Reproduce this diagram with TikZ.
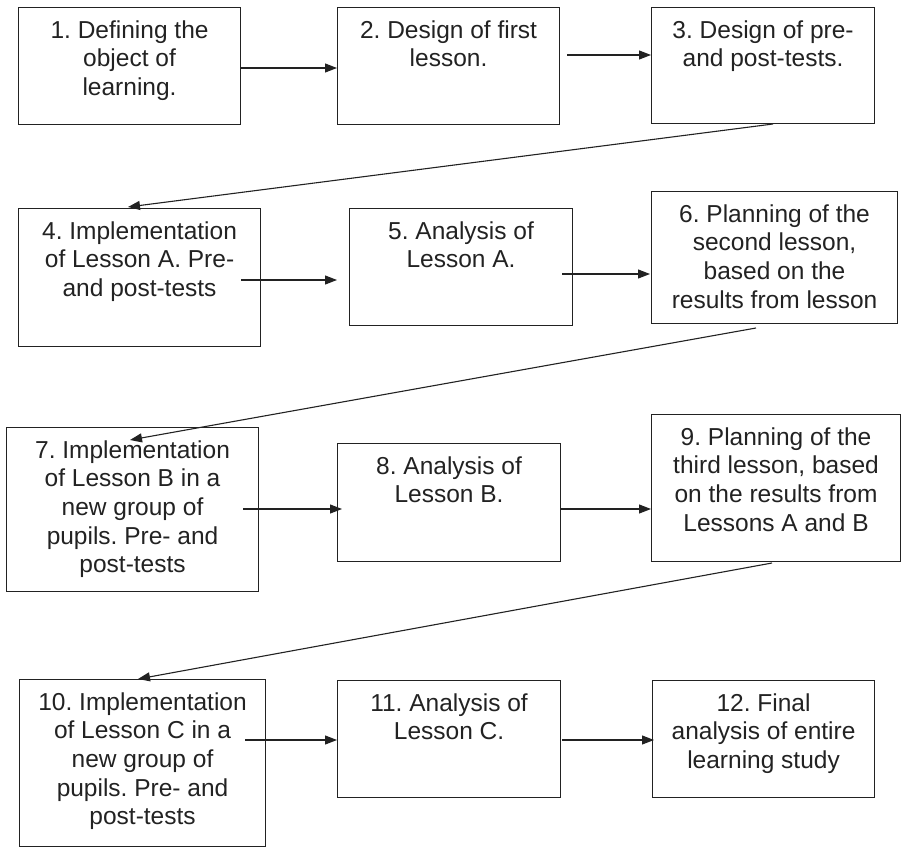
\documentclass[tikz,border=0pt]{standalone}
\usepackage{fontspec}
\setmainfont{Liberation Sans}
\usetikzlibrary{arrows.meta}
\definecolor{ink}{HTML}{222222}
\tikzset{
  flowbox/.style={draw=ink, line width=1.1pt, rectangle, inner sep=0pt, anchor=north west},
  txt/.style={inner sep=0pt, anchor=north, align=center, text=ink, font=\fontsize{24.5}{28.7}\selectfont\frenchspacing},
  arr/.style={draw=ink, line width=1.1pt, -{Triangle[length=12pt,width=9pt]}},
}
\begin{document}
\frenchspacing
\begin{tikzpicture}[x=1pt,y=-1pt]
\useasboundingbox (0,0) rectangle (902,848);
% boxes
\node[flowbox, minimum width=222pt, minimum height=117pt] (b1) at (18,7) {};
\node[flowbox, minimum width=222pt, minimum height=117pt] (b2) at (337,7) {};
\node[flowbox, minimum width=223pt, minimum height=116pt] (b3) at (651,7) {};
\node[flowbox, minimum width=242pt, minimum height=138pt] (b4) at (18,208) {};
\node[flowbox, minimum width=223pt, minimum height=117pt] (b5) at (349,208) {};
\node[flowbox, minimum width=246pt, minimum height=132pt] (b6) at (651,191) {};
\node[flowbox, minimum width=252pt, minimum height=164pt] (b7) at (6,427) {};
\node[flowbox, minimum width=223pt, minimum height=118pt] (b8) at (337,443) {};
\node[flowbox, minimum width=249pt, minimum height=147pt] (b9) at (651,414) {};
\node[flowbox, minimum width=246pt, minimum height=167pt] (b10) at (19,679) {};
\node[flowbox, minimum width=223pt, minimum height=117pt] (b11) at (337,680) {};
\node[flowbox, minimum width=222pt, minimum height=117pt] (b12) at (652,680) {};
% texts
\node[txt] (t1) at ([yshift=-10.9pt]b1.north) {\strut 1. Defining the\\object of\\learning.};
\node[txt] (t2) at ([yshift=-10.9pt]b2.north) {\strut 2. Design of first\\lesson.};
\node[txt] (t3) at ([yshift=-10.9pt]b3.north) {\strut 3. Design of pre-\\and post-tests.};
\node[txt] (t4) at ([yshift=-10.9pt]b4.north) {\strut 4. Implementation\\of Lesson A. Pre-\\and post-tests};
\node[txt] (t5) at ([yshift=-10.9pt]b5.north) {\strut 5. Analysis of\\Lesson A.};
\node[txt] (t6) at ([yshift=-10.9pt]b6.north) {\strut 6. Planning of the\\second lesson,\\based on the\\results from lesson};
\node[txt] (t7) at ([yshift=-10.9pt]b7.north) {\strut 7. Implementation\\of Lesson B in a\\new group of\\pupils. Pre- and\\post-tests};
\node[txt] (t8) at ([yshift=-10.9pt]b8.north) {\strut 8. Analysis of\\Lesson B.};
\node[txt] (t9) at ([yshift=-10.9pt]b9.north) {\strut 9. Planning of the\\third lesson, based\\on the results from\\Lessons A and B};
\node[txt] (t10) at ([yshift=-10.9pt]b10.north) {\strut 10. Implementation\\of Lesson C in a\\new group of\\pupils. Pre- and\\post-tests};
\node[txt] (t11) at ([yshift=-10.9pt]b11.north) {\strut 11. Analysis of\\Lesson C.};
\node[txt] (t12) at ([yshift=-10.9pt]b12.north) {\strut 12. Final\\analysis of entire\\learning study};
% connector end points
\coordinate (s12) at (240,68);   \coordinate (e12) at (337,68);
\coordinate (s23) at (567,55);   \coordinate (e23) at (651,55);
\coordinate (s34) at (773,124);  \coordinate (e34) at (128,207);
\coordinate (s45) at (241,280);  \coordinate (e45) at (337,280);
\coordinate (s56) at (562,274);  \coordinate (e56) at (650,274);
\coordinate (s67) at (756,328);  \coordinate (e67) at (130,440);
\coordinate (s78) at (243,509);  \coordinate (e78) at (342,509);
\coordinate (s89) at (560,509);  \coordinate (e89) at (651,509);
\coordinate (s910) at (772,563); \coordinate (e910) at (138,679);
\coordinate (s1011) at (245,740); \coordinate (e1011) at (337,740);
\coordinate (s1112) at (562,740); \coordinate (e1112) at (654,740);
% connectors
\draw[arr] (s12) -- (e12);
\draw[arr] (s23) -- (e23);
\draw[arr] (s34) -- (e34);
\draw[arr] (s45) -- (e45);
\draw[arr] (s56) -- (e56);
\draw[arr] (s67) -- (e67);
\draw[arr] (s78) -- (e78);
\draw[arr] (s89) -- (e89);
\draw[arr] (s910) -- (e910);
\draw[arr] (s1011) -- (e1011);
\draw[arr] (s1112) -- (e1112);
\end{tikzpicture}
\end{document}
